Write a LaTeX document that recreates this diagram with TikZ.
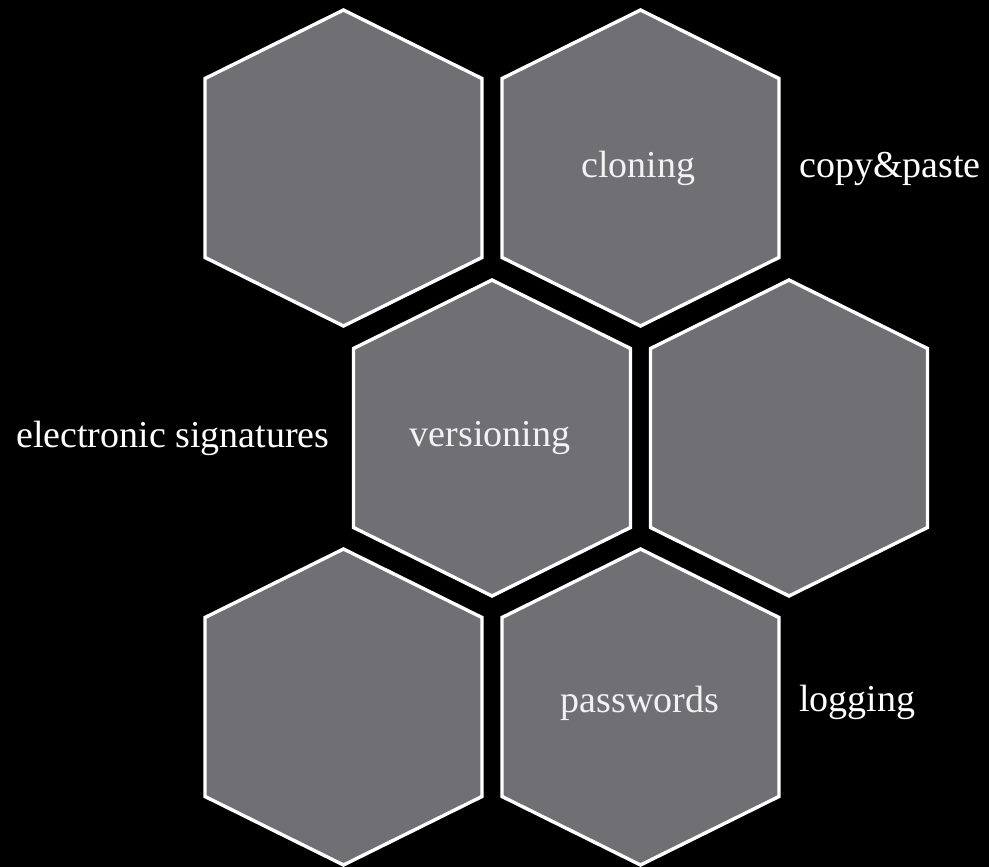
\documentclass[tikz,border=0pt]{standalone}
\usepackage{fontspec}
\setmainfont{Liberation Serif}
\definecolor{cellgray}{RGB}{112,111,116}
\definecolor{innertext}{RGB}{242,242,242}
\tikzset{
  hexline/.style={draw=white, line width=3.4pt, fill=cellgray, line join=miter},
  hexcell/.pic={
    \path[hexline] (0,-158) -- (138.5,-89.5) -- (138.5,89.5) -- (0,158)
      -- (-138.5,89.5) -- (-138.5,-89.5) -- cycle;
  },
  intext/.style={text=innertext, inner sep=0pt, anchor=base,
    font=\fontsize{38}{45}\selectfont},
  outtext/.style={text=white, inner sep=0pt, anchor=base west,
    font=\fontsize{38}{45}\selectfont},
}
\begin{document}
\begin{tikzpicture}[x=1pt, y=-1pt]
  % canvas
  \fill[black] (0,0) rectangle (989,867);
  \useasboundingbox (0,0) rectangle (989,867);

  % honeycomb cells
  \pic (topleft)   at (343.5,168) {hexcell};
  \pic (topright)  at (640.5,168) {hexcell};
  \pic (midleft)   at (492,438)   {hexcell};
  \pic (midright)  at (789,438)   {hexcell};
  \pic (botleft)   at (343.5,707) {hexcell};
  \pic (botright)  at (640.5,707) {hexcell};

  % labels inside cells
  \node[intext] (cloning)    at (638.5,177) {cloning};
  \node[intext] (versioning) at (490,446.5) {versioning};
  \node[intext] (passwords)  at (640,712)   {passwords};

  % labels beside cells
  \node[outtext] (copypaste) at (799,177)   {copy\&paste};
  \node[outtext] (esig)      at (16,447)    {electronic signatures};
  \node[outtext] (logging)   at (799,711.5) {logging};
\end{tikzpicture}
\end{document}
